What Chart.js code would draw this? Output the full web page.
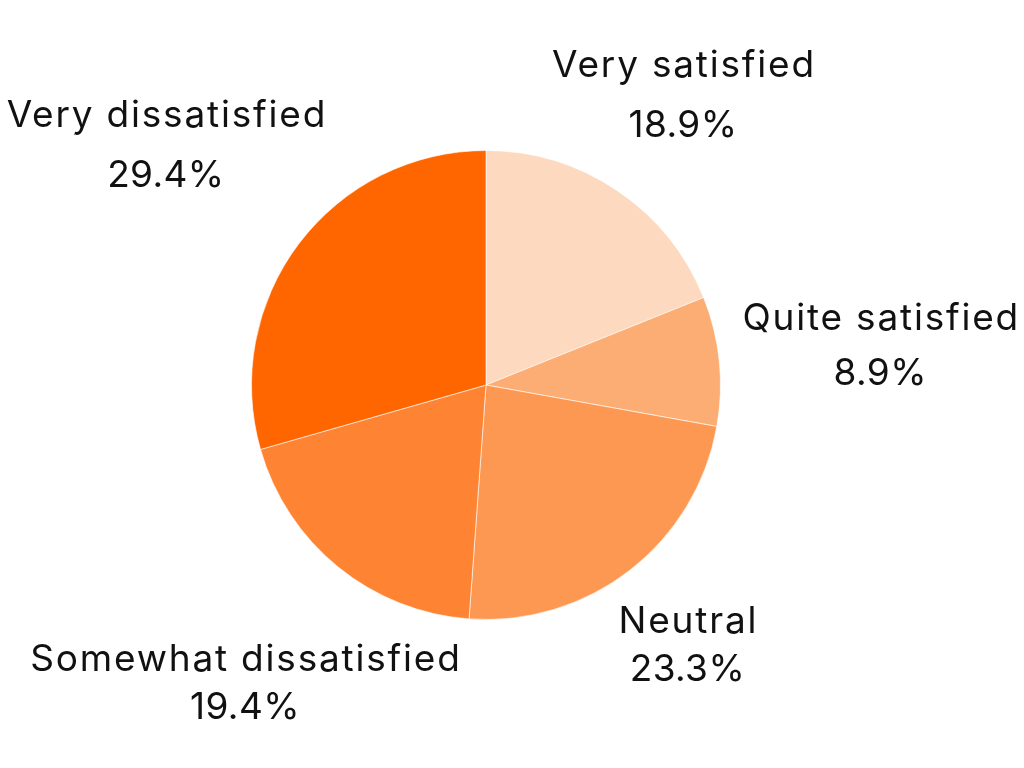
<!DOCTYPE html>
<html>
<head>
<meta charset="utf-8">
<script src="https://cdn.jsdelivr.net/npm/chart.js@4"></script>
<style>
html,body{margin:0;padding:0;background:#fff;}
#wrap{width:1024px;height:768px;position:relative;}
</style>
</head>
<body>
<div id="wrap"><canvas id="c" width="1024" height="768"></canvas></div>
<script>
const categories = ["Very satisfied", "Quite satisfied", "Neutral", "Somewhat dissatisfied", "Very dissatisfied"];
const shares = [18.9, 8.9, 23.3, 19.4, 29.4];
const sliceColors = ["#FDD9BF", "#FCAD74", "#FD9852", "#FE8433", "#FF6600"];

const labelDistance = [1.50, 1.69, 1.40, 1.63, 1.71];
const lineGap = [60, 55, 48, 48, 60];

const outsideLabels = {
  id: 'outsideLabels',
  afterDraw(chart) {
    const ctx = chart.ctx;
    const meta = chart.getDatasetMeta(0);
    ctx.save();
    ctx.fillStyle = '#111111';
    ctx.font = '37px Inter, "Open Sans", sans-serif';
    ctx.textAlign = 'center';
    ctx.textBaseline = 'middle';
    const hasLS = 'letterSpacing' in ctx;
    meta.data.forEach((arc, i) => {
      const p = arc.getProps(['x','y','startAngle','endAngle','outerRadius'], true);
      const mid = (p.startAngle + p.endAngle) / 2;
      const d = p.outerRadius * labelDistance[i];
      const cx = p.x + Math.cos(mid) * d;
      const cy = p.y + Math.sin(mid) * d + 2;
      const g = lineGap[i] / 2;
      if (hasLS) ctx.letterSpacing = '1.8px';
      ctx.fillText(chart.data.labels[i], cx + 1, cy - g);
      if (hasLS) ctx.letterSpacing = '0.4px';
      ctx.fillText(chart.data.datasets[0].data[i].toFixed(1) + '%', cx, cy + g);
    });
    ctx.restore();
  }
};

new Chart(document.getElementById('c'), {
  type: 'pie',
  data: {
    labels: categories,
    datasets: [{
      data: shares,
      backgroundColor: sliceColors,
      borderColor: 'rgba(255,255,255,0.6)',
      borderWidth: 1
    }]
  },
  options: {
    responsive: false,
    animation: false,
    layout: { padding: { left: 251, right: 303, top: 150, bottom: 148 } },
    plugins: {
      legend: { display: false },
      tooltip: { enabled: false }
    }
  },
  plugins: [outsideLabels]
});
</script>
</body>
</html>
